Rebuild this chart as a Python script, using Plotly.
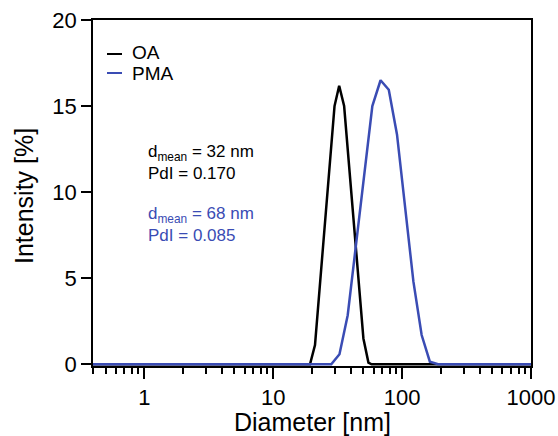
import plotly.graph_objects as go

# OA (black) size distribution
oa_diam = [0.4, 19.3, 21.1, 29.9, 32.5, 35.5, 50.1, 54.8, 58.0, 1000]
oa_int = [0, 0, 1.12, 15.0, 16.18, 15.0, 1.5, 0.1, 0, 0]

# PMA (blue) size distribution
pma_diam = [0.4, 28.21, 32.67, 37.84, 58.77, 68.06, 78.82, 91.28, 122.4, 141.8, 164.2, 190.1, 1000]
pma_int = [0, 0, 0.58, 2.85, 15.0, 16.5, 15.95, 13.35, 4.8, 1.7, 0.15, 0, 0]

x_major = [1, 10, 100, 1000]
x_major_text = ["1", "10", "100", "1000"]
x_minor = [m * 10 ** e for e in range(-1, 3) for m in range(2, 10) if 0.39 < m * 10 ** e < 1000]
y_ticks = [0, 5, 10, 15, 20]

BLUE = "#3a4cb4"
FONT = "Liberation Sans, Arial, Helvetica, sans-serif"

L, R, T, B = 93, 27, 20, 70
W, H = 558, 436
PW, PH = W - L - R, H - T - B


def px(x):
    return (x - L) / PW


def py(y):
    return (H - B - y) / PH


fig = go.Figure()
fig.add_trace(go.Scatter(x=oa_diam, y=oa_int, mode="lines", name="OA",
                         line=dict(color="black", width=2.5), showlegend=False))
fig.add_trace(go.Scatter(x=pma_diam, y=pma_int, mode="lines", name="PMA",
                         line=dict(color=BLUE, width=2.5), showlegend=False))

fig.update_layout(
    width=W, height=H,
    margin=dict(l=L, r=R, t=T, b=B, autoexpand=False),
    paper_bgcolor="white", plot_bgcolor="white",
    font=dict(family=FONT, color="black", size=22),
    xaxis=dict(
        type="log", range=[-0.398, 3.0], automargin=False,
        tickmode="array", tickvals=x_major, ticktext=x_major_text,
        ticks="outside", ticklen=11, tickwidth=1.5, tickcolor="black",
        minor=dict(tickmode="array", tickvals=x_minor, ticks="outside",
                   ticklen=6, tickwidth=1.5, tickcolor="black", showgrid=False),
        showline=True, mirror=True, linecolor="black", linewidth=1.6,
        showgrid=False, zeroline=False,
        tickfont=dict(size=22),
    ),
    yaxis=dict(
        range=[-0.1, 20.0], automargin=False,
        tickmode="array", tickvals=y_ticks,
        ticks="outside", ticklen=10, tickwidth=1.5, tickcolor="black",
        showline=True, mirror=True, linecolor="black", linewidth=1.6,
        showgrid=False, zeroline=False,
        tickfont=dict(size=22),
    ),
)

# Axis titles
fig.add_annotation(text="Diameter [nm]", xref="paper", yref="paper",
                   x=px(312), y=py(422), xanchor="center", yanchor="middle",
                   showarrow=False, font=dict(size=25, color="black"), borderpad=0)
fig.add_annotation(text="Intensity [%]", xref="paper", yref="paper",
                   x=px(24), y=py(196), xanchor="center", yanchor="middle",
                   textangle=-90, showarrow=False, font=dict(size=25, color="black"))

# Manual legend
fig.add_shape(type="line", xref="paper", yref="paper",
              x0=px(107), x1=px(122), y0=py(54), y1=py(54),
              line=dict(color="black", width=2))
fig.add_shape(type="line", xref="paper", yref="paper",
              x0=px(107), x1=px(122), y0=py(73), y1=py(73),
              line=dict(color=BLUE, width=2))
fig.add_annotation(text="OA", xref="paper", yref="paper",
                   x=px(130), y=py(53), xanchor="left", yanchor="middle",
                   showarrow=False, font=dict(size=19, color="black"))
fig.add_annotation(text="PMA", xref="paper", yref="paper",
                   x=px(130), y=py(73.5), xanchor="left", yanchor="middle",
                   showarrow=False, font=dict(size=19, color="black"))

# Statistics text
fig.add_annotation(text="d<sub>mean</sub> = 32 nm<br>PdI = 0.170", xref="paper", yref="paper",
                   x=px(146), y=py(162), xanchor="left", yanchor="middle", align="left",
                   showarrow=False, font=dict(size=17, color="black"))
fig.add_annotation(text="d<sub>mean</sub> = 68 nm<br>PdI = 0.085", xref="paper", yref="paper",
                   x=px(146), y=py(224), xanchor="left", yanchor="middle", align="left",
                   showarrow=False, font=dict(size=17, color=BLUE))

fig.write_html("out.html",
               config={"displayModeBar": False},
               post_script="document.body.style.margin='0';document.body.style.overflow='hidden';")
